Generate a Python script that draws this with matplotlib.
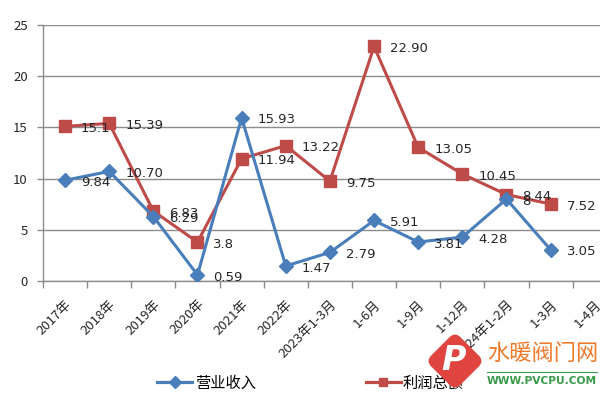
import matplotlib

matplotlib.use("Agg")
import matplotlib.pyplot as plt
import numpy as np
from matplotlib.lines import Line2D
from matplotlib.patches import FancyBboxPatch
from matplotlib.transforms import Affine2D

plt.rcParams["font.family"] = ["Noto Sans CJK SC", "DejaVu Sans"]

categories = ["2017年", "2018年", "2019年", "2020年", "2021年", "2022年",
              "2023年1-3月", "1-6月", "1-9月", "1-12月", "2024年1-2月", "1-3月", "1-4月"]
revenue = [9.84, 10.70, 6.29, 0.59, 15.93, 1.47, 2.79, 5.91, 3.81, 4.28, 8, 3.05]
profit = [15.1, 15.39, 6.83, 3.8, 11.94, 13.22, 9.75, 22.90, 13.05, 10.45, 8.44, 7.52]
revenue_labels = ["9.84", "10.70", "6.29", "0.59", "15.93", "1.47", "2.79", "5.91",
                  "3.81", "4.28", "8", "3.05"]
profit_labels = ["15.1", "15.39", "6.83", "3.8", "11.94", "13.22", "9.75", "22.90",
                 "13.05", "10.45", "8.44", "7.52"]

BLUE = "#4A7EBB"
RED = "#BE4B48"
GRID = "#8C8C8C"

fig = plt.figure(figsize=(6.0, 3.96), dpi=100)
# plot area runs past the right edge (the source image is cropped)
ax = fig.add_axes([0.0717, 0.2904, 1.028 - 0.0717, 0.9369 - 0.2904])

x = np.arange(len(revenue))
ax.plot(x, profit, color=RED, lw=2.2, marker="s", ms=8, mec=RED, zorder=3)
ax.plot(x, revenue, color=BLUE, lw=2.2, marker="D", ms=7.5, mec=BLUE, zorder=4)

for xi, v, s in zip(x, revenue, revenue_labels):
    ax.annotate(s, (xi, v), xytext=(11.5, -1.5), textcoords="offset points",
                ha="left", va="center", fontsize=9.5, color="#262626",
                family="DejaVu Sans", zorder=5)
for xi, v, s in zip(x, profit, profit_labels):
    ax.annotate(s, (xi, v), xytext=(11.5, -1.5), textcoords="offset points",
                ha="left", va="center", fontsize=9.5, color="#262626",
                family="DejaVu Sans", zorder=5)

ax.set_xlim(-0.5, len(categories) - 0.5)
ax.set_ylim(0, 25)
ax.set_yticks(np.arange(0, 26, 5))
ax.yaxis.grid(True, color=GRID, lw=1.0)
ax.set_axisbelow(True)

ax.set_xticks(np.arange(len(categories)))
ax.set_xticklabels(categories, rotation=45, ha="right", rotation_mode="anchor",
                   fontsize=9.5, color="#262626")
ax.set_xticks(np.arange(-0.5, len(categories)), minor=True)
ax.tick_params(axis="x", which="major", length=0, pad=12)
ax.tick_params(axis="x", which="minor", length=5, color=GRID, width=1)
ax.tick_params(axis="y", length=4, color=GRID, width=1, pad=7, labelsize=9.5,
               labelcolor="#262626")

for side in ["top", "right"]:
    ax.spines[side].set_visible(False)
for side in ["left", "bottom"]:
    ax.spines[side].set_color(GRID)
    ax.spines[side].set_linewidth(1.0)

handles = [
    Line2D([], [], color=BLUE, lw=2.3, marker="D", ms=6, mec=BLUE),
    Line2D([], [], color=RED, lw=2.3, marker="s", ms=6, mec=RED),
]
fig.legend(handles, ["营业收入", "利润总额"], loc="center left",
           bbox_to_anchor=(0.262, 0.033), ncol=2, frameon=False, fontsize=11,
           handlelength=2.3, handletextpad=0.15, columnspacing=7.2,
           borderpad=0, borderaxespad=0)

# watermark in the lower right corner: rounded tilted square logo + site name
cx, cy, half = 4.55, 0.35, 0.20
logo = FancyBboxPatch((cx - half, cy - half), 2 * half, 2 * half,
                      boxstyle="round,pad=0,rounding_size=0.07",
                      transform=Affine2D().rotate_deg_around(cx, cy, 45) + fig.dpi_scale_trans,
                      color="#E0443F", zorder=10)
fig.add_artist(logo)
fig.text(cx / 6.0 - 0.003, cy / 3.96, "P", fontsize=24, fontweight="bold", style="italic",
         color="white", ha="center", va="center", family="DejaVu Sans", zorder=11)
fig.text(487 / 600, 1 - 353 / 396, "水暖阀门网", fontsize=16, color="#F07A2A",
         ha="left", va="center", zorder=11)
fig.add_artist(Line2D([487 / 600, 597 / 600], [1 - 372 / 396] * 2, color="#3A9A4A",
                      lw=0.8, transform=fig.transFigure, zorder=11))
fig.text(487 / 600, 1 - 381 / 396, "WWW.PVCPU.COM", fontsize=7.7, fontweight="bold",
         color="#3A9A4A", ha="left", va="center", family="DejaVu Sans", zorder=11)

fig.savefig("out.png", dpi=100)
